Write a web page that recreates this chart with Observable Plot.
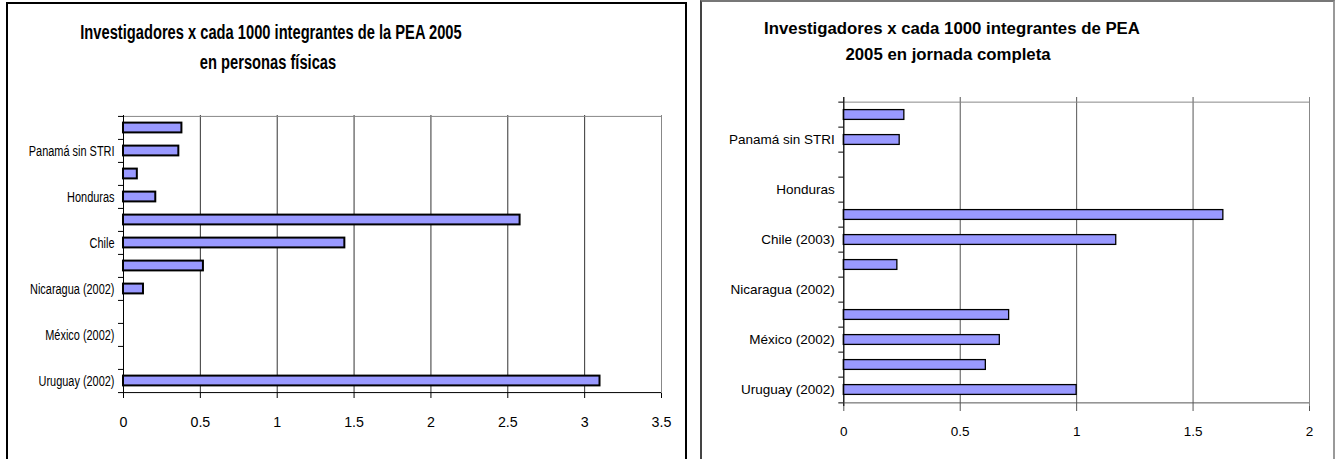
<!DOCTYPE html>
<html><head><meta charset="utf-8">
<script src="https://cdn.jsdelivr.net/npm/d3@7"></script>
<script src="https://cdn.jsdelivr.net/npm/@observablehq/plot@0.6"></script>
<style>
body{margin:0;background:#fff;overflow:hidden}
#wrap{position:relative;width:1335px;height:459px;overflow:hidden;background:#fff}
.panel{position:absolute;box-sizing:border-box}
.title{position:absolute;font-weight:bold;color:#000;white-space:nowrap;line-height:1}
#wrap svg{position:absolute;top:0}
</style></head><body><div id="wrap">
<div class="panel" style="left:6px;top:2px;width:681px;height:480px;border:2px solid #000"></div>
<div class="panel" style="left:700px;top:0px;width:635px;height:480px;border-left:2px solid #444;border-top:2px solid #777;border-right:2px solid #999"></div>
<div class="title" style="left:271px;top:33px;transform:translate(-50%,-50%) scaleX(0.753);font-family:'Liberation Sans',Arial,sans-serif;font-size:19.5px">Investigadores x cada 1000 integrantes de la PEA 2005</div>
<div class="title" style="left:268px;top:63px;transform:translate(-50%,-50%) scaleX(0.753);font-family:'Liberation Sans',Arial,sans-serif;font-size:19.5px">en personas físicas</div>
<div class="title" style="left:952px;top:29px;transform:translate(-50%,-50%);font-family:'Liberation Sans',Arial,sans-serif;font-size:16.8px">Investigadores x cada 1000 integrantes de PEA</div>
<div class="title" style="left:948px;top:55px;transform:translate(-50%,-50%);font-family:'Liberation Sans',Arial,sans-serif;font-size:16.8px">2005 en jornada completa</div>
</div>
<script>
// ---- data ----
const categoryKeys = ["c1","c2","c3","c4","c5","c6","c7","c8","c9","c10","c11","c12"];
const leftLabels = ["", "Panamá sin STRI", "", "Honduras", "", "Chile", "", "Nicaragua (2002)", "", "México (2002)", "", "Uruguay (2002)"];
const rightLabels = ["", "Panamá sin STRI", "", "Honduras", "", "Chile (2003)", "", "Nicaragua (2002)", "", "México (2002)", "", "Uruguay (2002)"];
const leftValues = [0.38, 0.36, 0.09, 0.21, 2.58, 1.44, 0.52, 0.13, 0, 0, 0, 3.10];
const rightValues = [0.26, 0.24, 0, 0, 1.63, 1.17, 0.23, 0, 0.71, 0.67, 0.61, 1.00];
const leftTicks = [0, 0.5, 1, 1.5, 2, 2.5, 3, 3.5];
const rightTicks = [0, 0.5, 1, 1.5, 2];

function makePanel(cfg) {
  const data = categoryKeys.map((k, i) => ({key: k, value: cfg.values[i]}));
  const labelOf = new Map(categoryKeys.map((k, i) => [k, cfg.labels[i]]));
  const labeled = categoryKeys.filter(k => labelOf.get(k) !== "");
  const step = (cfg.height - cfg.mt - cfg.mb) / categoryKeys.length;
  const xMax = cfg.ticks[cfg.ticks.length - 1];
  const first = categoryKeys[0], last = categoryKeys[categoryKeys.length - 1];
  const svg = Plot.plot({
    width: cfg.width, height: cfg.height,
    marginLeft: cfg.ml, marginRight: cfg.mr, marginTop: cfg.mt, marginBottom: cfg.mb,
    style: {background: "none", overflow: "visible", fontFamily: "'Liberation Sans',Arial,sans-serif", fontSize: cfg.fontSize + "px", color: "#000"},
    x: {domain: [0, xMax], axis: null, label: null},
    y: {domain: categoryKeys, padding: 0, axis: null, label: null},
    marks: [
      Plot.gridX(cfg.ticks, {stroke: cfg.grid, strokeOpacity: 1}),
      Plot.ruleX([xMax], {stroke: "#888"}),
      Plot.ruleY([first], {dy: -step / 2, stroke: "#888"}),
      Plot.barX(data, {filter: d => d.value > 0, x: "value", y: "key", fill: "#9999FF", stroke: "#000", strokeWidth: cfg.sw, insetTop: cfg.inset, insetBottom: cfg.inset}),
      Plot.ruleX([0], {stroke: "#000"}),
      Plot.ruleY([last], {dy: step / 2, stroke: cfg.bottomColor}),
      Plot.axisY(categoryKeys, {tickSize: 5, tickFormat: () => "", label: null, dy: -step / 2, stroke: "#000"}),
      Plot.axisY([last], {tickSize: 5, tickFormat: () => "", label: null, dy: step / 2, stroke: "#000"}),
      Plot.axisY(labeled, {tickSize: 0, tickPadding: 9, label: null, tickFormat: k => labelOf.get(k), fill: "#000", fontSize: cfg.fontSize}),
      Plot.axisX(cfg.ticks, {tickSize: 5, tickPadding: cfg.xpad, label: null, tickFormat: d => String(d), stroke: cfg.bottomColor, fill: "#000", fontSize: cfg.xFontSize})
    ]
  });
  svg.style.left = cfg.left + "px";
  const squeeze = (prefix, s) => {
    if (s === 1) return;
    svg.querySelectorAll(`g[aria-label^="${prefix}"] text`).forEach(t => {
      if (!t.textContent) return;
      const tr = t.getAttribute("transform") || "";
      t.setAttribute("transform", tr + ` scale(${s},1)`);
    });
  };
  squeeze("y-axis", cfg.yScale);
  squeeze("x-axis", cfg.xScale);
  return svg;
}

const wrap = document.getElementById("wrap");
wrap.appendChild(makePanel({
  values: leftValues, labels: leftLabels, ticks: leftTicks,
  left: 0, width: 690, height: 459, ml: 123, mr: 29, mt: 115, mb: 66,
  fontSize: 14.5, xFontSize: 15, yScale: 0.755, xScale: 0.95,
  sw: 2, inset: 6.6, grid: "#333", bottomColor: "#000", xpad: 18
}));
wrap.appendChild(makePanel({
  values: rightValues, labels: rightLabels, ticks: rightTicks,
  left: 690, width: 645, height: 459, ml: 153.3, mr: 26, mt: 97, mb: 53,
  fontSize: 13.5, xFontSize: 13.5, yScale: 1, xScale: 1,
  sw: 1.3, inset: 7.6, grid: "#555", bottomColor: "#555", xpad: 15
}));
</script>
</body></html>
